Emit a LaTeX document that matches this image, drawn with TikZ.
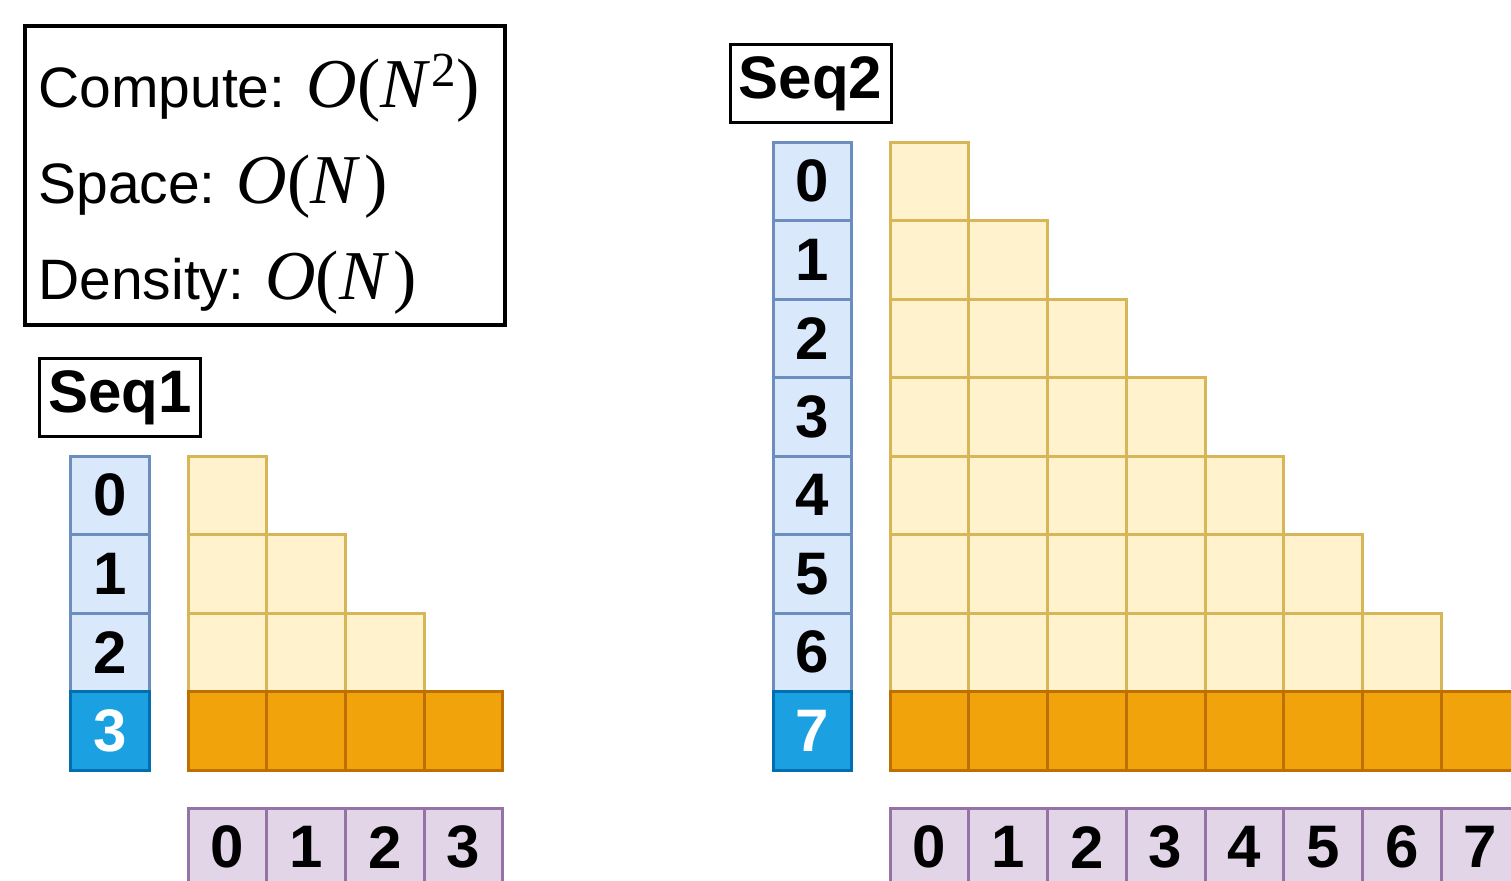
\documentclass[tikz,border=0pt]{standalone}
\usepackage{fontspec}
\setmainfont{Liberation Sans}
\newfontfamily\mathfnt{Liberation Serif}
\definecolor{RowFill}{RGB}{218, 232, 252}
\definecolor{RowLine}{RGB}{108, 142, 191}
\definecolor{LastFill}{RGB}{27, 161, 226}
\definecolor{LastLine}{RGB}{0, 110, 175}
\definecolor{CellFill}{RGB}{255, 242, 204}
\definecolor{CellLine}{RGB}{214, 182, 86}
\definecolor{OutFill}{RGB}{240, 163, 10}
\definecolor{OutLine}{RGB}{189, 112, 0}
\definecolor{PosFill}{RGB}{225, 213, 231}
\definecolor{PosLine}{RGB}{150, 115, 166}
\newcommand{\cost}[1]{{\fontsize{35}{40}\selectfont\mathfnt\textit{O}(\textit{N}\kern2pt#1)}}
\tikzset{
  cell/.style={draw, line width=1.5pt, minimum width=39.37pt, minimum height=39.25pt,
    inner sep=0pt, font=\fontsize{30}{36}\selectfont\bfseries},
  qcell/.style={cell, fill=RowFill, draw=RowLine},
  qlast/.style={cell, fill=LastFill, draw=LastLine, text=white},
  score/.style={cell, fill=CellFill, draw=CellLine},
  outcell/.style={cell, fill=OutFill, draw=OutLine},
  poscell/.style={cell, fill=PosFill, draw=PosLine},
  seqlabel/.style={draw, line width=1.5pt, minimum width=80.5pt, minimum height=39pt,
    inner sep=0pt, font=\fontsize{30}{36}\selectfont\bfseries},
  costline/.style={anchor=base west, inner sep=0pt, font=\fontsize{28.5}{34}\selectfont}
}

\begin{document}
\begin{tikzpicture}[x=0.5pt, y=-0.5pt]
    \useasboundingbox (0,0) rectangle (1511,880);

    % Cost box
    \node[draw, line width=2pt, minimum width=240pt, minimum height=149.75pt] (legend) at (264.5,175.25) {};
    \node[costline] (compute) at (38,107) {Compute: \cost{\kern-1.5pt\raisebox{1pt}{\textsuperscript{2}}}};
    \node[costline] (space) at (38,203) {Space: \cost{}};
    \node[costline] (density) at (38,299) {Density: \cost{}};

    % Seq1
    \node[seqlabel] (seq1) at (120,397.5) {Seq1};
    \foreach \i in {0,1,2} {
      \node[qcell] (s1q\i) at (110, 495.25+\i*78.5) {\i};
    }
    \node[qlast] (s1q3) at (110,730.75) {3};
    \foreach \r in {0,1,2} {
      \foreach \c in {0,...,\r} {
        \node[score] (s1k\r\c) at (227.375+\c*78.75, 495.25+\r*78.5) {};
      }
    }
    \foreach \c in {0,...,3} {
      % last row
      \node[outcell] (s1o\c) at (227.375+\c*78.75, 730.75) {};
      % positions
      \node[poscell] (s1p\c) at (227.375+\c*78.75, 847.25) {\c};
    }

    % Seq2
    \node[seqlabel] (seq2) at (810.5,83.5) {Seq2};
    \foreach \i in {0,...,6} {
      \node[qcell] (s2q\i) at (812.5, 181.25+\i*78.5) {\i};
    }
    \node[qlast] (s2q7) at (812.5,730.75) {7};
    \foreach \r in {0,...,6} {
      \foreach \c in {0,...,\r} {
        \node[score] (s2k\r\c) at (929.375+\c*78.75, 181.25+\r*78.5) {};
      }
    }
    \foreach \c in {0,...,7} {
      % last row
      \node[outcell] (s2o\c) at (929.375+\c*78.75, 730.75) {};
      % positions
      \node[poscell] (s2p\c) at (929.375+\c*78.75, 847.25) {\c};
    }
\end{tikzpicture}
\end{document}
